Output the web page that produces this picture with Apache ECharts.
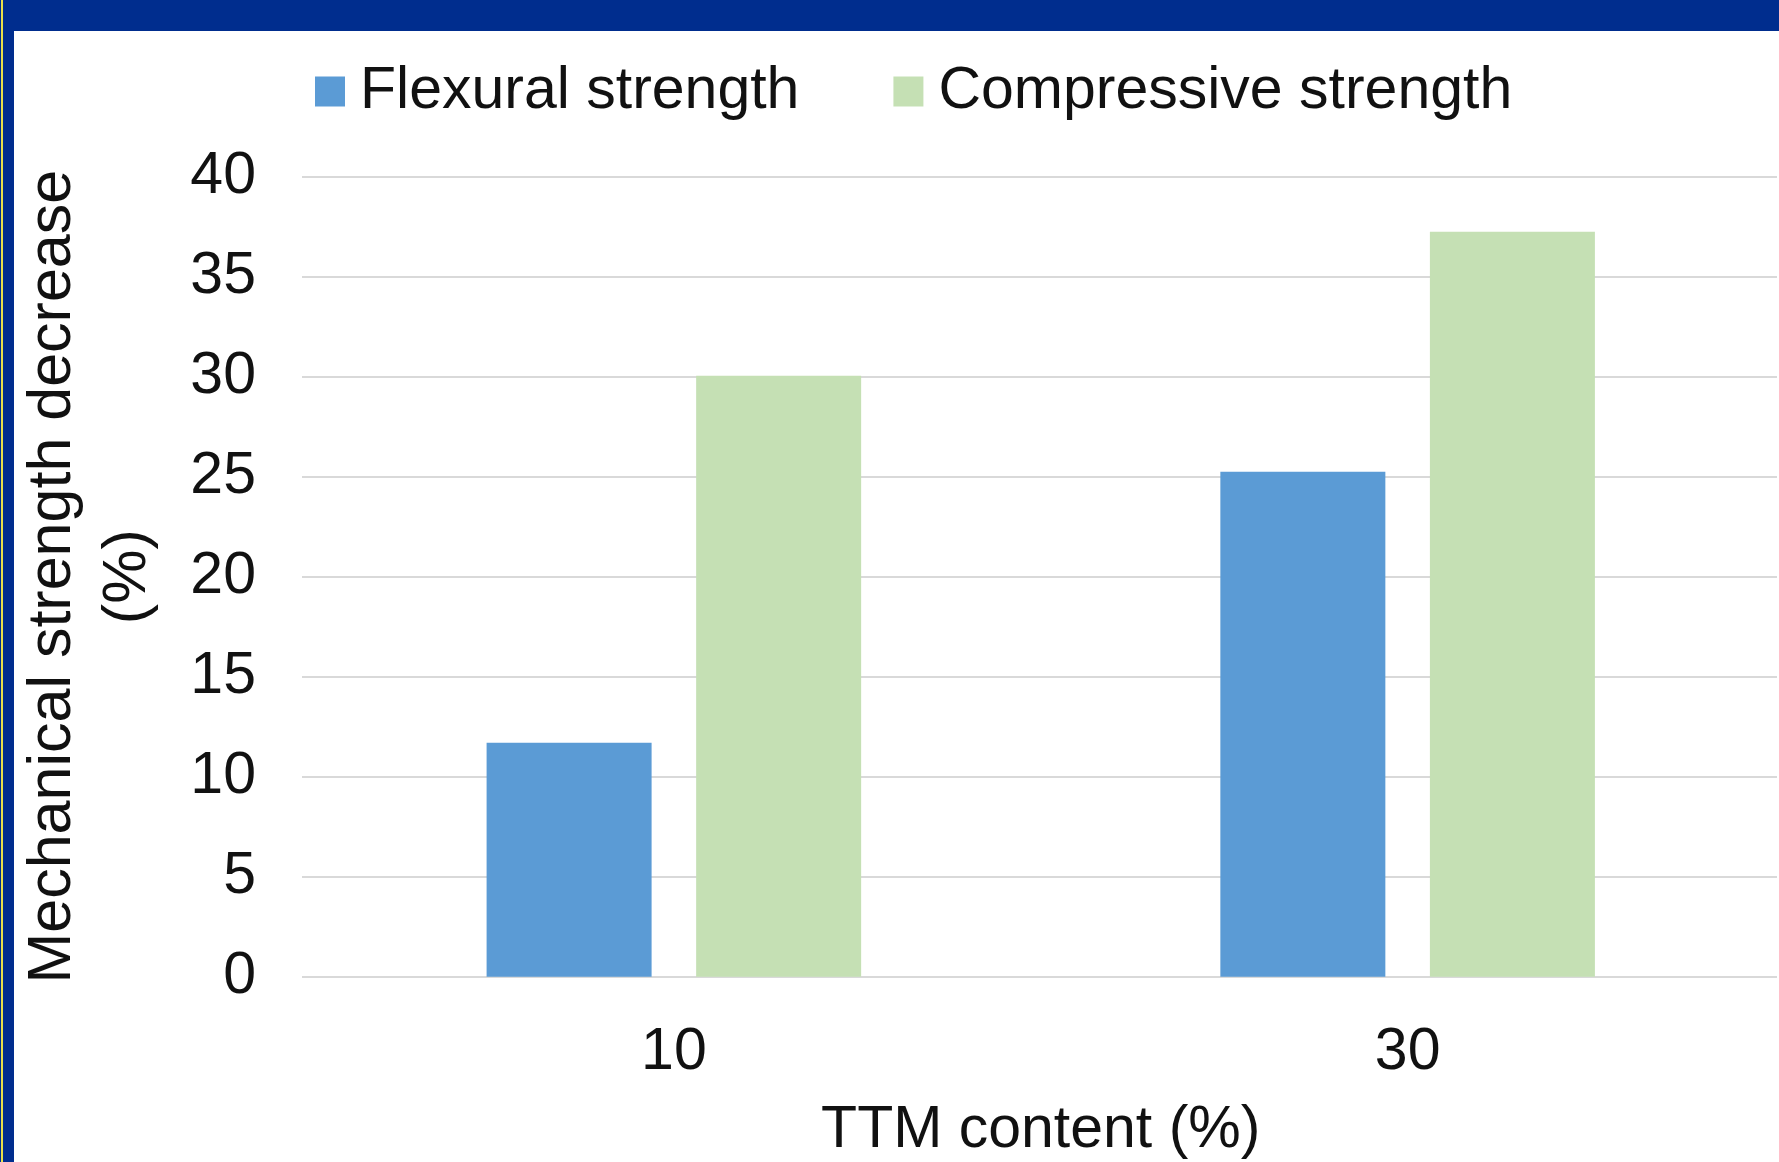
<!DOCTYPE html>
<html>
<head>
<meta charset="utf-8">
<script src="https://cdn.jsdelivr.net/npm/echarts@6/dist/echarts.min.js"></script>
<style>
  html, body { margin: 0; padding: 0; background: #ffffff; }
  #wrap { position: relative; width: 1779px; height: 1162px; overflow: hidden; background: #ffffff; }
  #chart { position: absolute; left: 0; top: 0; width: 1779px; height: 1162px; }
  .band-top { position: absolute; left: 0; top: 0; width: 1779px; height: 31px; background: #002D8E; }
  .band-left { position: absolute; left: 0; top: 0; width: 14px; height: 1162px; background: #002D8E; }
  .band-line { position: absolute; left: 1px; top: 0; width: 2px; height: 1162px; background: #E8E04A; }
</style>
</head>
<body>
<div id="wrap">
  <div id="chart"></div>
  <div class="band-top"></div>
  <div class="band-left"></div>
  <div class="band-line"></div>
</div>
<script>
// TTM content levels (%) on the x axis
const categories = ['10', '30'];
// Strength decrease (%) for each TTM content level
const flexuralValues = [11.7, 25.25];
const compressiveValues = [30.05, 37.25];
// Y axis range
const yTicks = { min: 0, max: 40, interval: 5 };

const FONT = '"Liberation Sans", Arial, sans-serif';
const TEXT = '#111111';
const TOP = 176.7;
const BOTTOM = 185.3;

const chart = echarts.init(document.getElementById('chart'), null, { renderer: 'canvas' });

chart.setOption({
  animation: false,
  backgroundColor: 'transparent',
  textStyle: { fontFamily: FONT, color: TEXT },
  legend: {
    left: 315,
    top: 62,
    padding: 0,
    itemWidth: 30,
    itemHeight: 30,
    itemGap: 94,
    icon: 'rect',
    textStyle: { fontFamily: FONT, fontSize: 59, color: TEXT, padding: [0, 0, 0, 10] },
    data: ['Flexural strength', 'Compressive strength']
  },
  grid: [
    // value grid: gridlines and y tick labels
    { left: 302, right: 2, top: TOP, bottom: BOTTOM, outerBoundsMode: 'none' },
    // category grid: bars and x labels
    { left: 307, right: 4.5, top: TOP, bottom: BOTTOM, outerBoundsMode: 'none' }
  ],
  xAxis: [
    {
      gridIndex: 0,
      type: 'value',
      show: false
    },
    {
      gridIndex: 1,
      type: 'category',
      data: categories,
      name: 'TTM content (%)',
      nameLocation: 'middle',
      nameGap: 125,
      nameMoveOverlap: false,
      nameTextStyle: { fontFamily: FONT, fontSize: 59, color: TEXT },
      axisLine: { show: false },
      axisTick: { show: false },
      axisLabel: { fontFamily: FONT, fontSize: 59, color: TEXT, margin: 47 },
      splitLine: { show: false }
    }
  ],
  yAxis: [
    {
      gridIndex: 0,
      type: 'value',
      min: yTicks.min,
      max: yTicks.max,
      interval: yTicks.interval,
      name: 'Mechanical strength decrease\n(%)',
      nameLocation: 'middle',
      nameGap: 136,
      nameMoveOverlap: false,
      nameTextStyle: { fontFamily: FONT, fontSize: 61, color: TEXT, lineHeight: 75, align: 'center' },
      axisLine: { show: false },
      axisTick: { show: false },
      axisLabel: { fontFamily: FONT, fontSize: 59, color: TEXT, margin: 46 },
      splitLine: { show: true, lineStyle: { color: '#D9D9D9', width: 2 } }
    },
    {
      gridIndex: 1,
      type: 'value',
      min: yTicks.min,
      max: yTicks.max,
      interval: yTicks.interval,
      show: false,
      splitLine: { show: false }
    }
  ],
  series: [
    {
      name: 'Flexural strength',
      type: 'bar',
      xAxisIndex: 1,
      yAxisIndex: 1,
      data: flexuralValues,
      barWidth: 165,
      barGap: '27%',
      itemStyle: { color: '#5B9BD5' }
    },
    {
      name: 'Compressive strength',
      type: 'bar',
      xAxisIndex: 1,
      yAxisIndex: 1,
      data: compressiveValues,
      barWidth: 165,
      barGap: '27%',
      itemStyle: { color: '#C5E0B4' }
    }
  ]
});
</script>
</body>
</html>
